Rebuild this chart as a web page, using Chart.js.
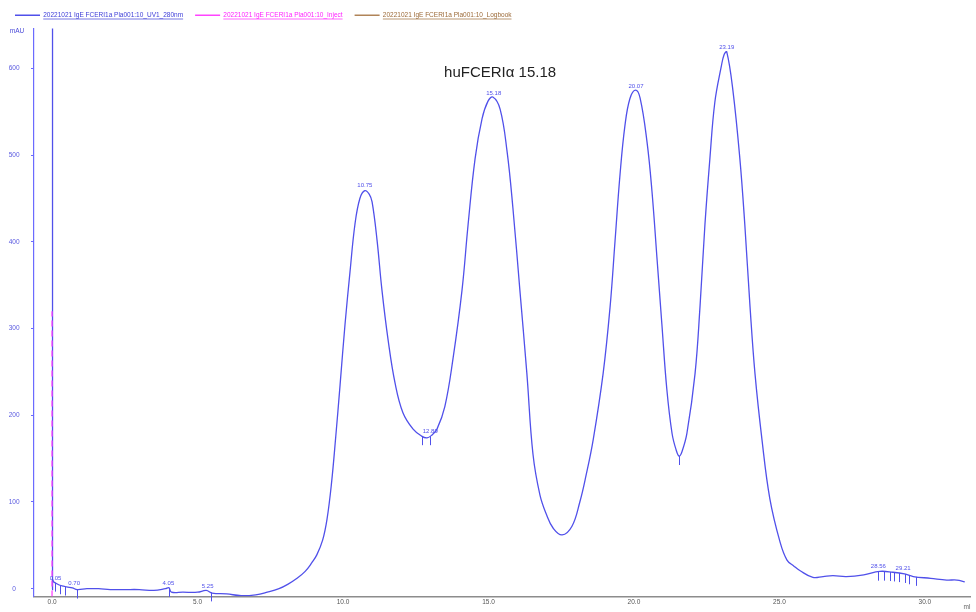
<!DOCTYPE html>
<html>
<head>
<meta charset="utf-8">
<script src="https://cdn.jsdelivr.net/npm/chart.js@4"></script>
<style>
html, body { margin: 0; padding: 0; background: #fff; }
</style>
</head>
<body>
<canvas id="myChart" width="976" height="612"></canvas>
<script>
const volumen = [0.03, 0.05, 0.15, 0.27, 0.4, 0.5, 0.7, 0.86, 1.2, 1.6, 2.0, 2.5, 3.0, 3.5, 3.9, 4.02, 4.1, 4.5, 5.0, 5.3, 5.5, 6.0, 6.5, 7.0, 7.4, 7.8, 8.1, 8.42, 8.7, 8.93, 9.1, 9.3, 9.45, 9.6, 9.75, 9.9, 10.07, 10.24, 10.41, 10.58, 10.75, 10.9, 11.0, 11.17, 11.34, 11.55, 11.79, 12.06, 12.41, 12.7, 12.89, 13.05, 13.23, 13.5, 13.78, 14.09, 14.3, 14.54, 14.78, 14.98, 15.15, 15.4, 15.64, 15.84, 16.08, 16.32, 16.53, 16.77, 17.0, 17.22, 17.53, 17.87, 18.14, 18.35, 18.6, 18.94, 19.18, 19.35, 19.52, 19.69, 19.86, 20.05, 20.21, 20.45, 20.62, 20.79, 20.96, 21.13, 21.31, 21.45, 21.55, 21.65, 21.82, 22.1, 22.27, 22.44, 22.61, 22.78, 23.0, 23.1, 23.19, 23.4, 23.64, 23.81, 23.99, 24.16, 24.4, 24.67, 25.02, 25.26, 25.5, 25.7, 26.15, 26.5, 26.84, 27.3, 27.9, 28.45, 28.9, 29.3, 29.6, 30.2, 30.75, 31.1, 31.37];
const uv = [10, 8, 6, 4, 3, 2, 1, -1, 0, 0, -1, -1, -1, -2, 0, 1, -4, -4, -4, -2, -5, -6, -8, -7, -4, 0, 5, 12, 20, 30, 39, 56, 80, 120, 175, 235, 305, 365, 420, 450, 459, 455, 446, 402, 344, 287, 237, 203, 184, 176, 174, 177, 184, 210, 265, 344, 420, 496, 542, 562, 567, 553, 504, 439, 344, 248, 155, 108, 85, 70, 62, 72, 100, 130, 172, 248, 325, 401, 477, 534, 565, 575, 566, 515, 458, 382, 305, 230, 179, 160, 153, 158, 179, 248, 325, 420, 496, 561, 602, 616, 619, 575, 496, 420, 325, 248, 172, 104, 54, 33, 26, 21, 13, 14, 15, 14, 16, 20, 19, 17, 14, 12, 10, 10, 8];

// pico de inyeccion fuera de escala
const picoX = [0, 0, 0.02, 0.03];
const picoY = [-1, 700, 700, 10];

const injectX = [0, 0];
const injectY = [-9, 320];

const xTicks = [0, 5, 10, 15, 20, 25, 30];
const yTicks = [0, 100, 200, 300, 400, 500, 600];

const picosX = [0.12, 0.76, 4.0, 5.35, 10.75, 13.0, 15.18, 20.07, 23.19, 28.4, 29.25];
const picosTexto = ['0.05', '0.70', '4.05', '5.25', '10.75', '12.89', '15.18', '20.07', '23.19', '28.56', '29.21'];
const marcas = [0.1, 0.27, 0.45, 0.86, 4.02, 5.45, 12.71, 12.99, 21.55, 28.4, 28.6, 28.8, 28.95, 29.1, 29.3, 29.45, 29.7];

const nombres = ['20221021 IgE FCERI1a Pla001:10_UV1_280nm', '20221021 IgE FCERI1a Pla001:10_Inject', '20221021 IgE FCERI1a Pla001:10_Logbook'];
const coloresTexto = ['#3c3cd8', '#ff22ff', '#9c6a38'];

const colorUV = '#5050ea';

const valorEn = (v) => {
    for (let i = 1; i < volumen.length; i++) {
        if (v >= volumen[i - 1] && v <= volumen[i]) {
            const t = (v - volumen[i - 1]) / (volumen[i] - volumen[i - 1]);
            return uv[i - 1] + t * (uv[i] - uv[i - 1]);
        }
    }
    return uv[0];
};

const extras = {
    id: 'extras',
    afterDatasetsDraw(chart) {
        const { ctx, scales: { x, y } } = chart;
        ctx.save();
        ctx.strokeStyle = colorUV;
        ctx.lineWidth = 1;
        marcas.forEach(m => {
            const px = Math.round(x.getPixelForValue(m)) + 0.5;
            const py = y.getPixelForValue(valorEn(m));
            ctx.beginPath();
            ctx.moveTo(px, py);
            ctx.lineTo(px, py + 9);
            ctx.stroke();
        });
        ctx.font = '6px Arial';
        ctx.fillStyle = colorUV;
        ctx.textAlign = 'center';
        ctx.textBaseline = 'bottom';
        picosX.forEach((p, i) => {
            ctx.fillText(picosTexto[i], x.getPixelForValue(p), y.getPixelForValue(valorEn(p)) - 2);
        });
        ctx.font = '15px Arial';
        ctx.fillStyle = '#222';
        ctx.textBaseline = 'middle';
        ctx.fillText('huFCERIα 15.18', x.getPixelForValue(15.4), y.getPixelForValue(595));
        ctx.font = '6.5px Arial';
        ctx.fillStyle = '#4a4ad8';
        ctx.fillText('mAU', 17, chart.chartArea.top + 3);
        ctx.fillStyle = '#666';
        ctx.fillText('ml', 967, 607);
        ctx.restore();
    },
    afterDraw(chart) {
        // subrayado de la leyenda
        const legend = chart.legend;
        const ctx = chart.ctx;
        ctx.save();
        ctx.lineWidth = 0.7;
        legend.legendHitBoxes.forEach((hb, i) => {
            const start = hb.left + 25 + 3.25;
            ctx.strokeStyle = coloresTexto[i];
            ctx.beginPath();
            ctx.moveTo(start, hb.top + hb.height + 0.5);
            ctx.lineTo(hb.left + hb.width, hb.top + hb.height + 0.5);
            ctx.stroke();
        });
        ctx.restore();
    }
};

const ctx = document.getElementById('myChart');

new Chart(ctx, {
    type: 'line',
    data: {
        datasets: [{
            label: nombres[0],
            data: volumen.map((v, i) => ({ x: v, y: uv[i] })),
            borderColor: colorUV,
            borderWidth: 1.3,
            pointRadius: 0,
            tension: 0.4,
            fill: false
        }, {
            label: nombres[1],
            data: injectX.map((v, i) => ({ x: v, y: injectY[i] })),
            borderColor: '#ff44ff',
            borderWidth: 1.3,
            borderDash: [6, 4],
            pointRadius: 0,
            fill: false
        }, {
            label: nombres[2],
            data: [],
            borderColor: '#b08458',
            borderWidth: 1.3,
            borderDash: [6, 4],
            pointRadius: 0,
            fill: false
        }, {
            label: 'pico',
            data: picoX.map((v, i) => ({ x: v, y: picoY[i] })),
            borderColor: colorUV,
            borderWidth: 1.3,
            pointRadius: 0,
            tension: 0,
            fill: false
        }]
    },
    options: {
        responsive: false,
        animation: false,
        layout: { padding: { left: 3, right: 6, top: 0, bottom: 0 } },
        plugins: {
            legend: {
                align: 'start',
                labels: {
                    usePointStyle: true,
                    pointStyle: 'line',
                    pointStyleWidth: 25,
                    boxWidth: 25,
                    padding: 12,
                    font: { family: 'Arial', size: 6.5 },
                    filter: item => item.datasetIndex < 3,
                    generateLabels(chart) {
                        const items = Chart.defaults.plugins.legend.labels.generateLabels(chart);
                        items.forEach((it, i) => { it.fontColor = coloresTexto[i]; });
                        return items;
                    }
                }
            },
            tooltip: { enabled: false }
        },
        scales: {
            x: {
                type: 'linear',
                min: -0.62,
                max: 31.55,
                afterFit(scale) { scale.height = 10; },
                afterBuildTicks(scale) { scale.ticks = xTicks.map(v => ({ value: v })); },
                grid: { display: false, drawTicks: false },
                border: { color: '#8c8c8c', width: 1.6 },
                ticks: {
                    padding: 2,
                    color: '#555',
                    font: { family: 'Arial', size: 6.5 },
                    maxRotation: 0,
                    callback: v => v.toFixed(1)
                }
            },
            y: {
                min: -9.1,
                max: 646,
                afterFit(scale) { scale.width = 31; },
                afterBuildTicks(scale) { scale.ticks = yTicks.map(v => ({ value: v })); },
                grid: { drawOnChartArea: false, tickLength: 3, color: '#6b6bff' },
                border: { color: '#6b6bff', width: 1.2 },
                ticks: {
                    padding: 11.5,
                    crossAlign: 'center',
                    color: '#5a5ae0',
                    font: { family: 'Arial', size: 6.5 }
                }
            }
        }
    },
    plugins: [extras]
});
</script>
</body>
</html>
